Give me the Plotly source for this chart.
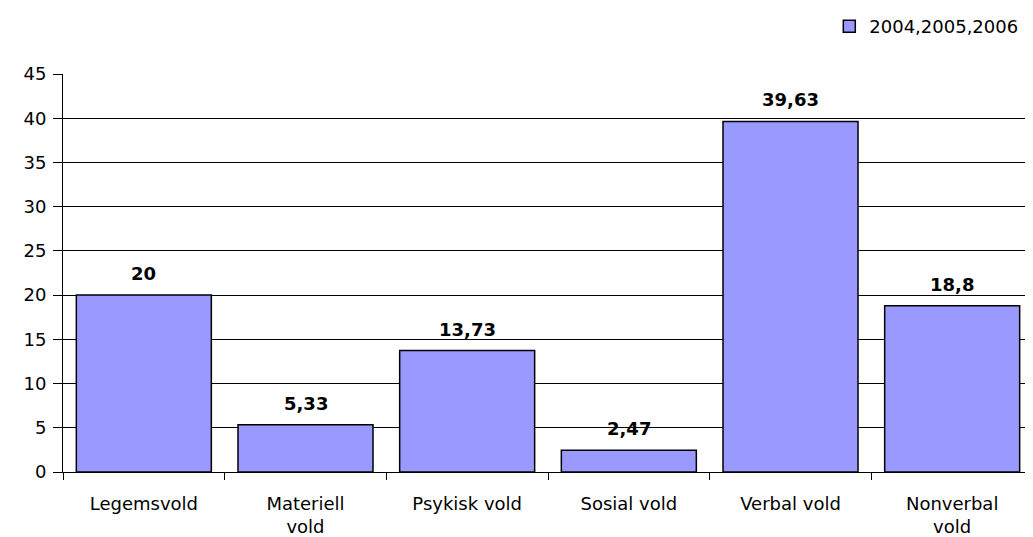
import plotly.graph_objects as go

categories = ["Legemsvold", "Materiell<br>vold", "Psykisk vold", "Sosial vold", "Verbal vold", "Nonverbal<br>vold"]
values = [20, 5.33, 13.73, 2.47, 39.63, 18.8]
series_name = "2004,2005,2006"
y_ticks = [0, 5, 10, 15, 20, 25, 30, 35, 40, 45]

FONT = "DejaVu Sans"

fig = go.Figure()

fig.add_trace(
    go.Bar(
        x=categories,
        y=values,
        name=series_name,
        marker=dict(
            color="#9999FF",
            line=dict(color="black", width=1.5)
        ),
        showlegend=True
    )
)

# value labels above the bars, comma as decimal separator
for cat, val in zip(categories, values):
    fig.add_annotation(
        x=cat,
        y=val,
        text="<b>" + f"{val:g}".replace(".", ",") + "</b>",
        showarrow=False,
        yanchor="bottom",
        yshift=9,
        font=dict(family=FONT, size=18, color="black")
    )

# page body has an 8px margin, so the figure is sized to fit the window
fig.update_layout(
    width=1025,
    height=529,
    margin=dict(l=55, r=0, t=62, b=65),
    paper_bgcolor="white",
    plot_bgcolor="white",
    bargap=0.165,
    font=dict(family=FONT, size=18, color="black"),
    showlegend=True,
    legend=dict(
        x=0.99,
        xanchor="right",
        y=1.119,
        yanchor="middle",
        itemwidth=30,
        font=dict(family=FONT, size=18, color="black"),
        bgcolor="rgba(0,0,0,0)"
    )
)

fig.update_xaxes(
    automargin=False,
    showline=True,
    linecolor="black",
    linewidth=1,
    ticks="outside",
    tickson="boundaries",
    ticklen=7,
    tickcolor="black",
    ticklabelstandoff=15,
    showgrid=False
)

fig.update_yaxes(
    automargin=False,
    range=[0, 45],
    tickvals=y_ticks,
    showline=True,
    linecolor="black",
    linewidth=1,
    ticks="outside",
    ticklen=9,
    tickcolor="black",
    ticklabelstandoff=3,
    showgrid=True,
    gridcolor="black",
    gridwidth=1,
    zeroline=False
)

fig.write_html("out.html")
